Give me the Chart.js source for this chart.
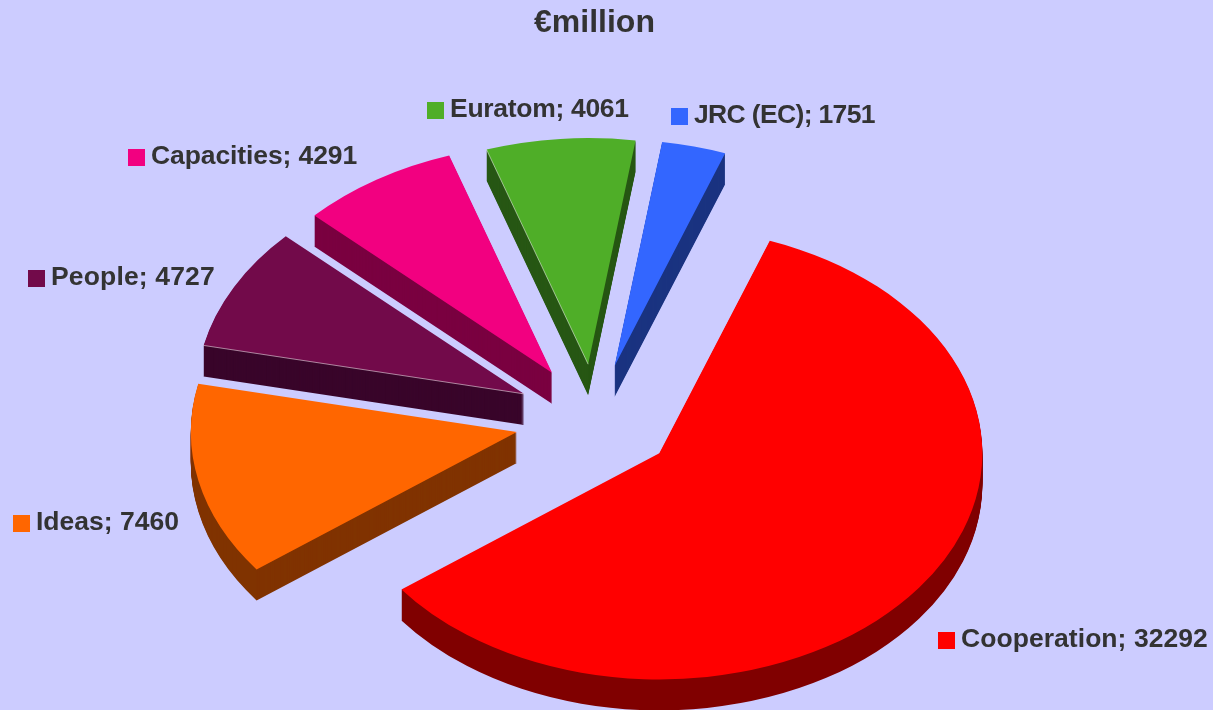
<!DOCTYPE html>
<html>
<head>
<meta charset="utf-8">
<title>FP7 budget</title>
<script src="https://cdn.jsdelivr.net/npm/chart.js@4"></script>
<style>
    html, body { margin: 0; padding: 0; background: #ccccff; }
    #wrap { width: 1213px; height: 710px; }
</style>
</head>
<body>
<div id="wrap"><canvas id="pieChart"></canvas></div>
<script>
const categories = ["Cooperation", "Ideas", "People", "Capacities", "Euratom", "JRC (EC)"];
const amounts = [32292, 7460, 4727, 4291, 4061, 1751];
const topColors = ["#ff0000", "#ff6600", "#720a4a", "#f20080", "#4fae28", "#3366ff"];
const sideColors = ["#800000", "#803300", "#39052a", "#7a0040", "#275714", "#1a3380"];
// swatch left edge and text baseline of each label
const labelX = [938, 13, 28, 128, 427, 671];
const labelY = [647, 530, 285, 164, 117, 123];
const labelSpacing = [0.05, 0, 0.15, -0.1, -0.3, -0.65];
// the left slices come out a bit bigger in the picture
const radiusExtra = [0, 3, 5, 4, 0, 0];
// slices with a light line on their first edge
const litEdges = [2, 4];

const pieCenterX = 595, pieCenterY = 420;
const squash = 0.7;
const depth = 31;
const explode = 80;
const sliceRadius = 323;

function drawArc(arc, ctx, color) {
    const real = arc.options;
    if (color) {
        const flat = Object.create(real);
        flat.backgroundColor = color;
        flat.borderColor = color;
        arc.options = flat;
    }
    arc.draw(ctx);
    arc.options = real;
}

const tiltedPie = {
    id: "tiltedPie",
    beforeDatasetsDraw(chart) {
        const ctx = chart.ctx;
        const meta = chart.getDatasetMeta(0);
        const first = meta.data[0];
        // back slices first, Cooperation goes last
        const order = [5, 4, 3, 2, 1, 0];
        ctx.save();
        ctx.translate(pieCenterX, pieCenterY);
        ctx.scale(1, squash);
        ctx.translate(-first.x, -first.y);
        order.forEach(function (i) {
            const arc = meta.data[i];
            const mid = (arc.startAngle + arc.endAngle) / 2;
            arc.outerRadius = sliceRadius + radiusExtra[i];
            ctx.save();
            // pull the slice out of the pie
            ctx.translate(Math.cos(mid) * explode, Math.sin(mid) * explode);
            for (let d = depth; d > 0; d--) {
                ctx.save();
                ctx.translate(0, d / squash);
                drawArc(arc, ctx, sideColors[i]);
                ctx.restore();
            }
            drawArc(arc, ctx);
            if (litEdges.includes(i)) {
                ctx.strokeStyle = "rgba(255, 255, 255, 0.6)";
                ctx.lineWidth = 1;
                ctx.beginPath();
                ctx.moveTo(arc.x, arc.y);
                ctx.lineTo(arc.x + Math.cos(arc.startAngle) * arc.outerRadius,
                    arc.y + Math.sin(arc.startAngle) * arc.outerRadius);
                ctx.stroke();
            }
            ctx.restore();
        });
        ctx.restore();
        return false;
    },
    afterDraw(chart) {
        const ctx = chart.ctx;
        ctx.save();
        ctx.font = "bold 26.5px 'Liberation Sans'";
        ctx.textBaseline = "alphabetic";
        categories.forEach(function (name, i) {
            ctx.fillStyle = topColors[i];
            ctx.fillRect(labelX[i], labelY[i] - 15, 17, 17);
            ctx.fillStyle = "#333333";
            ctx.letterSpacing = labelSpacing[i] + "px";
            ctx.fillText(name + "; " + amounts[i], labelX[i] + 23, labelY[i]);
        });
        ctx.restore();
    }
};

new Chart(document.getElementById("pieChart"), {
    type: "pie",
    data: {
        labels: categories,
        datasets: [{
            data: amounts,
            backgroundColor: topColors,
            borderWidth: 0
        }]
    },
    options: {
        responsive: true,
        maintainAspectRatio: false,
        animation: false,
        rotation: 20,
        radius: sliceRadius,
        events: [],
        layout: { padding: { right: 24 } },
        plugins: {
            legend: { display: false },
            tooltip: { enabled: false },
            title: {
                display: true,
                text: "€million",
                color: "#333333",
                font: { family: "'Liberation Sans'", size: 32, weight: "bold" },
                padding: { top: 4, bottom: 0 }
            }
        }
    },
    plugins: [tiltedPie]
});
</script>
</body>
</html>
